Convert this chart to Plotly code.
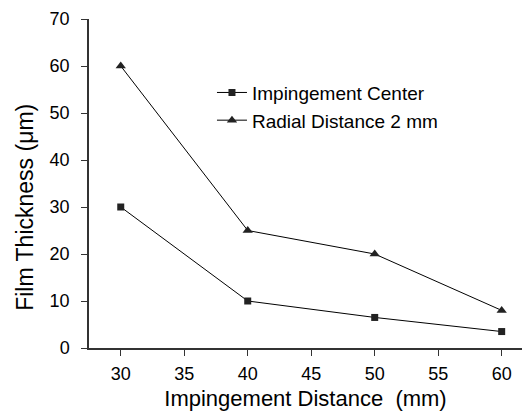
import plotly.graph_objects as go

distance = [30, 40, 50, 60]
center = [30, 10, 6.5, 3.5]
radial = [60, 25, 20, 8]
names = ["Impingement Center", "Radial Distance 2 mm"]

fig = go.Figure()
fig.add_trace(go.Scatter(x=distance, y=center, name=names[0], mode="lines+markers",
                         line=dict(color="black", width=1),
                         marker=dict(symbol="square", size=7, color="#222")))
fig.add_trace(go.Scatter(x=distance, y=radial, name=names[1], mode="lines+markers",
                         line=dict(color="black", width=1),
                         marker=dict(symbol="triangle-up", size=9, color="#222")))

fig.update_layout(
    width=531, height=416,
    margin=dict(l=89, r=9, t=17, b=68),
    paper_bgcolor="white", plot_bgcolor="white",
    font=dict(family="Liberation Sans, Arial", size=18, color="black"),
    legend=dict(x=0.284, y=0.834, xanchor="left", yanchor="top",
                bgcolor="rgba(0,0,0,0)", font=dict(size=19), tracegroupgap=0,
                itemwidth=30),
    xaxis=dict(range=[27.5, 61.6], tickvals=[30, 35, 40, 45, 50, 55, 60],
               showline=True, linecolor="#333", linewidth=1.5, ticks="outside",
               ticklen=6, tickcolor="#333", showgrid=False, zeroline=False,
               ticklabelstandoff=3,
               title=dict(text="Impingement Distance  (mm)", font=dict(size=22), standoff=7)),
    yaxis=dict(range=[0, 70], tickvals=[0, 10, 20, 30, 40, 50, 60, 70],
               showline=True, linecolor="#333", linewidth=1.5, ticks="outside",
               ticklen=6, tickcolor="#333", showgrid=False, zeroline=False,
               ticklabelstandoff=8),
    annotations=[dict(text="Film Thickness (μm)", textangle=-90, xref="paper", yref="paper",
                      x=0, y=0.426, xanchor="center", yanchor="middle", xshift=-64,
                      showarrow=False, font=dict(size=23))],
)
fig.write_html("out.html")
